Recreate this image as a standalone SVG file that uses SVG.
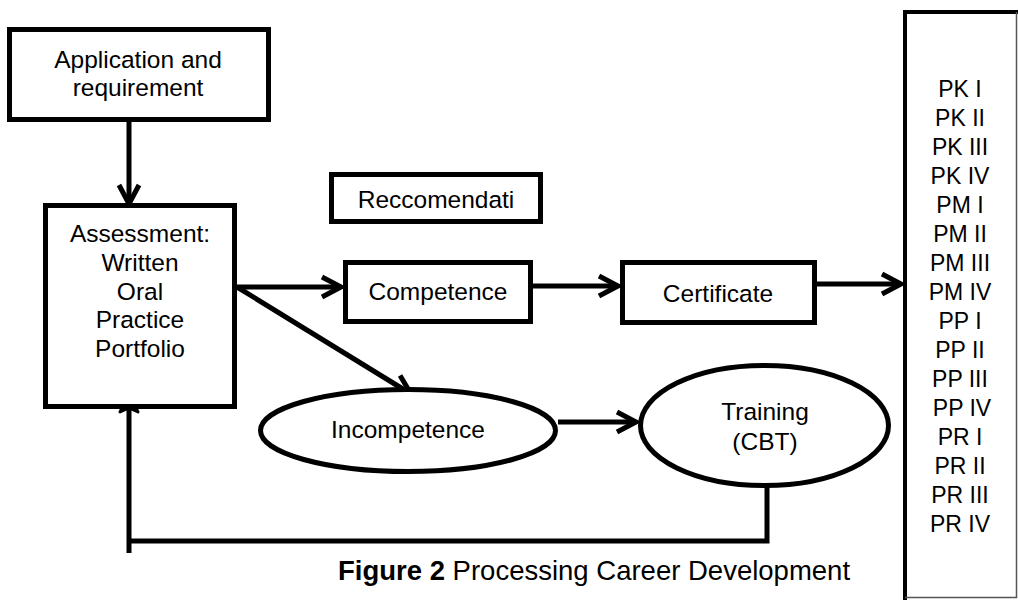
<svg xmlns="http://www.w3.org/2000/svg" width="1018" height="600" viewBox="0 0 1018 600">
  <style>
    .box { fill: #fff; stroke: #000; stroke-width: 5; }
    .lbl { font-family: "Liberation Sans", Arial, sans-serif; font-size: 24.5px; fill: #000; text-anchor: middle; }
    .lst { font-family: "Liberation Sans", Arial, sans-serif; font-size: 23px; fill: #000; text-anchor: middle; }
    .cap { font-family: "Liberation Sans", Arial, sans-serif; font-size: 27.5px; fill: #000; }
    .conn { fill: none; stroke: #000; stroke-width: 5; }
  </style>
  <defs>
    <marker id="chev" markerUnits="userSpaceOnUse" markerWidth="30" markerHeight="30" refX="0" refY="0" viewBox="-26 -15 30 30" orient="auto" overflow="visible">
      <path d="M -19 -10 L 0 0 L -19 10" fill="none" stroke="#000" stroke-width="5" stroke-linejoin="miter"/>
    </marker>
  </defs>
  <rect width="1018" height="600" fill="#fff"/>

  <g id="connectors">
    <line class="conn" x1="129" y1="122" x2="129" y2="204" marker-end="url(#chev)"/>
    <line class="conn" x1="237" y1="287" x2="341" y2="287" marker-end="url(#chev)"/>
    <line class="conn" x1="237" y1="287" x2="411" y2="394" marker-end="url(#chev)"/>
    <line class="conn" x1="533" y1="286" x2="618" y2="286" marker-end="url(#chev)"/>
    <line class="conn" x1="817" y1="284" x2="901" y2="284" marker-end="url(#chev)"/>
    <line class="conn" x1="558" y1="422" x2="636" y2="422" marker-end="url(#chev)"/>
    <polyline class="conn" points="767,479 767,541 129,541"/>
    <line class="conn" x1="129" y1="553" x2="129" y2="405"/>
    <path d="M 129 394 L 120 412 L 129 408 L 138 412 Z" fill="#000" stroke="#000" stroke-width="3" stroke-linejoin="round"/>
  </g>

  <g id="application">
    <rect class="box" x="9.5" y="29.5" width="259" height="90"/>
    <text class="lbl" x="138" y="68">Application and</text>
    <text class="lbl" x="138" y="96">requirement</text>
  </g>

  <g id="assessment">
    <rect class="box" x="45.5" y="205.5" width="189" height="201"/>
    <text class="lbl" x="140" y="242">Assessment:</text>
    <text class="lbl" x="140" y="271">Written</text>
    <text class="lbl" x="140" y="300">Oral</text>
    <text class="lbl" x="140" y="328">Practice</text>
    <text class="lbl" x="140" y="357">Portfolio</text>
  </g>

  <g id="recommendation">
    <rect class="box" x="331.5" y="174.5" width="209" height="47"/>
    <text class="lbl" x="436" y="208">Reccomendati</text>
  </g>

  <g id="competence">
    <rect class="box" x="345.5" y="262.5" width="185" height="59"/>
    <text class="lbl" x="438" y="300">Competence</text>
  </g>

  <g id="certificate">
    <rect class="box" x="622.5" y="262.5" width="192" height="60"/>
    <text class="lbl" x="718" y="302">Certificate</text>
  </g>

  <g id="incompetence">
    <ellipse class="box" cx="408" cy="430.5" rx="147.5" ry="41"/>
    <text class="lbl" x="408" y="438">Incompetence</text>
  </g>

  <g id="training">
    <ellipse class="box" cx="764.5" cy="425.5" rx="124" ry="60"/>
    <text class="lbl" x="765" y="420">Training</text>
    <text class="lbl" x="765" y="450">(CBT)</text>
  </g>

  <g id="levels">
    <rect x="905" y="12" width="130" height="610" fill="#fff" stroke="#000" stroke-width="4"/>
    <line x1="1016.5" y1="12" x2="1016.5" y2="598" stroke="#555" stroke-width="1.5"/>
    <line x1="905" y1="597.5" x2="1017" y2="597.5" stroke="#555" stroke-width="1.5"/>
    <text class="lst" x="960" y="97">PK I</text>
    <text class="lst" x="960" y="126">PK II</text>
    <text class="lst" x="960" y="155">PK III</text>
    <text class="lst" x="960" y="184">PK IV</text>
    <text class="lst" x="960" y="213">PM I</text>
    <text class="lst" x="960" y="242">PM II</text>
    <text class="lst" x="960" y="271">PM III</text>
    <text class="lst" x="960" y="300">PM IV</text>
    <text class="lst" x="960" y="329">PP I</text>
    <text class="lst" x="960" y="358">PP II</text>
    <text class="lst" x="960" y="387">PP III</text>
    <text class="lst" x="962" y="416">PP IV</text>
    <text class="lst" x="960" y="445">PR I</text>
    <text class="lst" x="960" y="474">PR II</text>
    <text class="lst" x="960" y="503">PR III</text>
    <text class="lst" x="960" y="532">PR IV</text>
  </g>

  <text class="cap" x="338" y="580"><tspan font-weight="bold">Figure 2</tspan> Processing Career Development</text>
</svg>
